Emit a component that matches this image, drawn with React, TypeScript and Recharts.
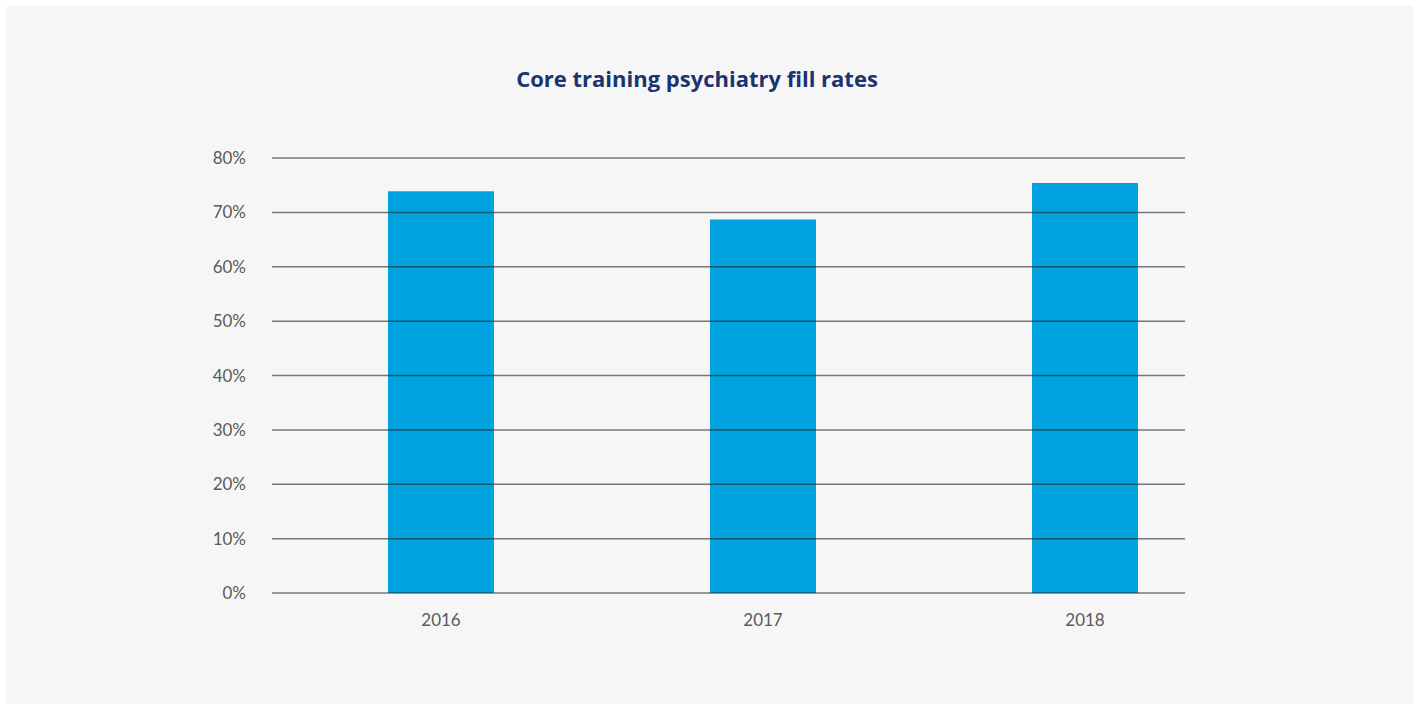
import { BarChart, Bar, XAxis, YAxis, ReferenceLine } from "recharts"

const years = ["2016", "2017", "2018"]
const fillRates = [73.9, 68.7, 75.4]
const yTicks = [0, 10, 20, 30, 40, 50, 60, 70, 80]

const data = years.map((year, i) => ({ year, rate: fillRates[i] }))

const tickStyle = { fill: "#5a5a5a", fontSize: 17, fontFamily: "Lato, sans-serif" }

export default function App() {
  return (
    <div
      style={{
        position: "absolute",
        left: 6,
        top: 6,
        width: 1407,
        height: 698,
        background: "#f6f6f6",
      }}
    >
      <div
        style={{
          position: "absolute",
          left: 0,
          top: 59,
          width: 1382,
          textAlign: "center",
          fontFamily: "'Open Sans', sans-serif",
          fontWeight: 700,
          fontSize: 22,
          lineHeight: "26px",
          color: "#1b3370",
        }}
      >
        Core training psychiatry fill rates
      </div>
      <BarChart
        width={1407}
        height={698}
        data={data}
        margin={{ top: 152, right: 228, bottom: 81, left: 0 }}
      >
        <XAxis
          dataKey="year"
          axisLine={false}
          tickLine={false}
          tickSize={0}
          tickMargin={21}
          height={30}
          padding={{ left: 8, right: -61 }}
          tick={tickStyle}
        />
        <YAxis
          domain={[0, 80]}
          ticks={yTicks}
          tickFormatter={(v) => `${v}%`}
          axisLine={false}
          tickLine={false}
          tickSize={0}
          tickMargin={26}
          width={266}
          tick={tickStyle}
        />
        <Bar dataKey="rate" fill="#00a3e0" barSize={106} isAnimationActive={false} />
        {yTicks.map((v) => (
          <ReferenceLine key={v} y={v} stroke="#222" strokeOpacity={0.6} strokeWidth={1.5} />
        ))}
      </BarChart>
    </div>
  )
}
